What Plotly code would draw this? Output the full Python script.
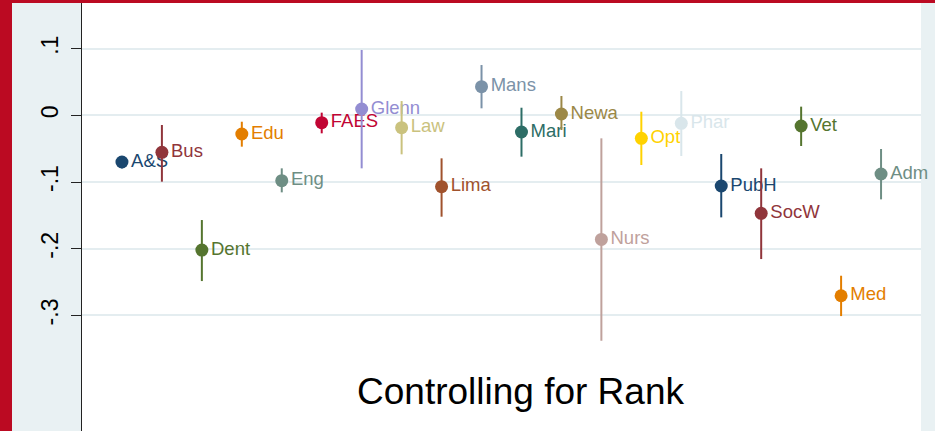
import plotly.graph_objects as go

# Unit effects (point estimates with 95% CI), controlling for rank
units = ["A&S", "Bus", "Dent", "Edu", "Eng", "FAES", "Glenn", "Law", "Lima", "Mans",
         "Mari", "Newa", "Nurs", "Opt", "Phar", "PubH", "SocW", "Vet", "Med", "Adm"]
estimate = [-0.070, -0.0555, -0.202, -0.028, -0.098, -0.011, 0.0095, -0.0186, -0.107, 0.043,
            -0.025, 0.002, -0.186, -0.0345, -0.012, -0.106, -0.147, -0.016, -0.2705, -0.088]
ci_low = [-0.0795, -0.0995, -0.2485, -0.047, -0.1155, -0.027, -0.0795, -0.0585, -0.152, 0.0105,
          -0.062, -0.022, -0.338, -0.0745, -0.061, -0.153, -0.2155, -0.046, -0.301, -0.126]
ci_high = [-0.062, -0.0145, -0.157, -0.0096, -0.0795, 0.004, 0.098, 0.0214, -0.0645, 0.0754,
           0.0114, 0.029, -0.0345, 0.0054, 0.0364, -0.058, -0.0795, 0.013, -0.2405, -0.0505]

# Stata s2color palette cycle
colors = ["#1a476f", "#90353b", "#55752f", "#e37e00", "#6e8e84", "#c10534", "#938dd2",
          "#cac27e", "#a0522d", "#7b92a8", "#2d6d66", "#9c8847", "#bfa19c", "#ffd200",
          "#d9e6eb", "#1a476f", "#90353b", "#55752f", "#e37e00", "#6e8e84"]

y_tick_vals = [-0.3, -0.2, -0.1, 0.0, 0.1]
y_tick_text = ["-.3", "-.2", "-.1", "0", ".1"]

FONT = "Liberation Sans, Arial, Helvetica, sans-serif"
BG = "#e9f1f3"
RED = "#bb0a22"

fig = go.Figure()
for i, (name, est, lo, hi, col) in enumerate(zip(units, estimate, ci_low, ci_high, colors)):
    fig.add_trace(go.Scatter(
        x=[i + 1], y=[est],
        mode="markers+text",
        text=[name], textposition="middle right",
        textfont=dict(family=FONT, size=18.5, color=col),
        marker=dict(size=13, color=col, line=dict(width=0)),
        error_y=dict(type="data", symmetric=False,
                     array=[hi - est], arrayminus=[est - lo],
                     color=col, thickness=2, width=0),
        showlegend=False, cliponaxis=False,
    ))

W, H = 935, 431
ML, MR, MT, MB = 82, 14, 3, 0
pw, ph = W - ML - MR, H - MT - MB

fig.update_layout(
    width=W, height=H,
    margin=dict(l=ML, r=MR, t=MT, b=MB, pad=0),
    paper_bgcolor=BG, plot_bgcolor="white",
    font=dict(family=FONT, color="black"),
    xaxis=dict(range=[0.0, 21.0], showgrid=False, zeroline=False, showline=False,
               showticklabels=False, ticks="", fixedrange=True),
    yaxis=dict(range=[-0.4733, 0.1684], tickvals=y_tick_vals, ticktext=y_tick_text,
               tickangle=-90, tickfont=dict(family=FONT, size=23, color="black"),
               ticks="outside", ticklen=10, tickwidth=1, tickcolor="#222222",
               showline=True, linecolor="#222222", linewidth=1.2,
               showgrid=True, gridcolor="#e4edf0", gridwidth=1.5,
               zeroline=False, ticklabelstandoff=4),
    annotations=[dict(text="Controlling for Rank", xref="paper", yref="paper",
                      x=(520.5 - ML) / pw, y=(H - 391 - MB) / ph,
                      xanchor="center", yanchor="middle", showarrow=False,
                      font=dict(family=FONT, size=37, color="black"))],
    shapes=[
        # red page frame on the left and top edges
        dict(type="rect", xref="paper", yref="paper", layer="above",
             x0=-ML / pw, x1=(12 - ML) / pw, y0=-MB / ph, y1=1 + MT / ph,
             fillcolor=RED, line=dict(width=0)),
        dict(type="rect", xref="paper", yref="paper", layer="above",
             x0=-ML / pw, x1=1 + MR / pw, y0=1, y1=1 + MT / ph,
             fillcolor=RED, line=dict(width=0)),
    ],
)

fig.write_html("out.html")
